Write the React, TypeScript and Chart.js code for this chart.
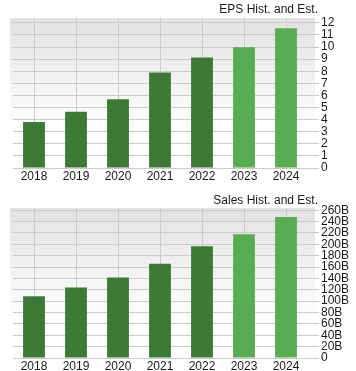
import React, { useEffect, useRef } from "react";
import { Chart, registerables } from "chart.js";

Chart.register(...registerables);

const years = ["2018", "2019", "2020", "2021", "2022", "2023", "2024"];
const isEstimate = [false, false, false, false, false, true, true];
const epsValues = [3.8, 4.66, 5.69, 7.9, 9.13, 9.99, 11.56];
const salesValues = [108.6, 124, 141.5, 166, 196.6, 217.8, 248]; // billions
const epsTickMax = 12;
const salesTickMax = 260;
const epsTitle = "EPS Hist. and Est.";
const salesTitle = "Sales Hist. and Est.";

const HIST = "#3c7a36";
const EST = "#59ac51";
const GRID = "#cbcbcb";
const FONT = "'Liberation Sans', Arial, Helvetica, sans-serif";

type Cfg = {
  title: string;
  values: number[];
  tickMax: number;
  axisMax: number;
  step: number;
  suffix: string;
  height: number;
  padTop: number;
  xHeight: number;
  titleY: number;
};

function BarChart({ cfg }: { cfg: Cfg }) {
  const ref = useRef<HTMLCanvasElement | null>(null);
  useEffect(() => {
    if (!ref.current) return;
    const bgPlugin = {
      id: "bg",
      beforeDraw(chart: any) {
        const { ctx, chartArea } = chart;
        const l = chartArea.left - 3;
        const r = chartArea.right + 8;
        const g = ctx.createLinearGradient(0, chartArea.top, 0, chartArea.bottom);
        g.addColorStop(0, "#e2e2e2");
        g.addColorStop(0.75, "#ffffff");
        g.addColorStop(1, "#ffffff");
        ctx.save();
        ctx.fillStyle = g;
        ctx.fillRect(l, chartArea.top, r - l, chartArea.bottom - chartArea.top);
        ctx.restore();
      },
    };
    const titlePlugin = {
      id: "rtitle",
      afterDraw(chart: any) {
        const { ctx, chartArea } = chart;
        ctx.save();
        ctx.font = `12px ${FONT}`;
        ctx.fillStyle = "#1a1a1a";
        ctx.textAlign = "right";
        ctx.textBaseline = "middle";
        ctx.fillText(cfg.title, chartArea.right + 11, cfg.titleY);
        ctx.restore();
      },
    };
    const chart = new Chart(ref.current, {
      type: "bar",
      data: {
        labels: years,
        datasets: [
          {
            data: cfg.values,
            backgroundColor: isEstimate.map((e) => (e ? EST : HIST)),
            borderWidth: 0,
            categoryPercentage: 1,
            barPercentage: 0.52,
          },
        ],
      },
      options: {
        responsive: false,
        animation: false,
        layout: { padding: { top: cfg.padTop, left: 13, right: 0, bottom: 0 } },
        plugins: { legend: { display: false }, tooltip: { enabled: false }, title: { display: false } },
        scales: {
          x: {
            offset: true,
            grid: { offset: false, color: GRID, drawTicks: false },
            border: { display: false },
            ticks: { color: "#1a1a1a", font: { family: FONT, size: 12 }, padding: 1, maxRotation: 0, autoSkip: false },
            afterFit: (s: any) => {
              s.height = cfg.xHeight;
            },
          },
          y: {
            position: "right",
            min: 0,
            max: cfg.axisMax,
            afterBuildTicks: (s: any) => {
              s.ticks = s.ticks.filter((t: any) => t.value <= cfg.tickMax);
            },
            grid: { color: GRID, tickLength: 12 },
            border: { display: false },
            ticks: {
              stepSize: cfg.step,
              includeBounds: false,
              autoSkip: false,
              color: "#1a1a1a",
              font: { family: FONT, size: 12 },
              padding: 2,
              callback: (v: any) => (v === 0 ? "0" : `${v}${cfg.suffix}`),
            },
            afterFit: (s: any) => {
              s.width = 49;
            },
          },
        },
      },
      plugins: [bgPlugin, titlePlugin],
    });
    return () => chart.destroy();
  }, [cfg]);
  return <canvas ref={ref} width={356} height={cfg.height} style={{ display: "block" }} />;
}

const epsCfg: Cfg = {
  title: epsTitle,
  values: epsValues,
  tickMax: epsTickMax,
  axisMax: 12.4,
  step: 1,
  suffix: "",
  height: 185,
  padTop: 18,
  xHeight: 17,
  titleY: 10,
};

const salesCfg: Cfg = {
  title: salesTitle,
  values: salesValues,
  tickMax: salesTickMax,
  axisMax: 264,
  step: 20,
  suffix: "B",
  height: 186,
  padTop: 23,
  xHeight: 13,
  titleY: 15.5,
};

export default function App() {
  return (
    <div style={{ position: "absolute", left: 0, top: 0, width: 356, height: 371, background: "#fff" }}>
      <BarChart cfg={epsCfg} />
      <BarChart cfg={salesCfg} />
    </div>
  );
}
